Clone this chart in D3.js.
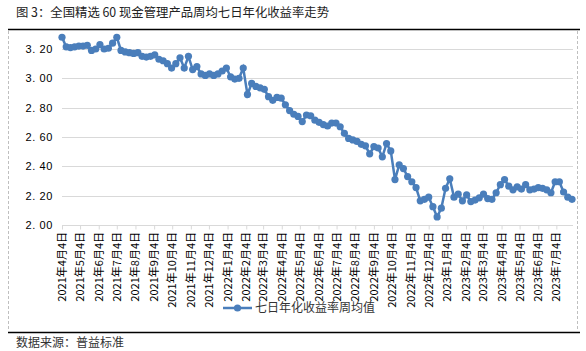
<!DOCTYPE html>
<html>
<head>
  <meta charset="utf-8">
  <title>七日年化收益率周均值</title>
  <script src="https://d3js.org/d3.v7.min.js"></script>
  <style>
    body { margin: 0; background: #fff; }
    text { font-family: "Liberation Sans", Arial, sans-serif; }
    .cjk { font-family: "Noto Sans CJK SC", sans-serif; }
  </style>
</head>
<body>
<script>
  // 데이터: 2021-04-04부터 매주 (주간 평균)
  var startDate = "2021-04-04";
  var yields = [
    3.28, 3.215, 3.21, 3.215, 3.22, 3.22, 3.225, 3.19, 3.20, 3.23,
    3.20, 3.205, 3.24, 3.28, 3.19, 3.18, 3.175, 3.17, 3.175, 3.15,
    3.145, 3.15, 3.16, 3.13, 3.12, 3.10, 3.07, 3.10, 3.14, 3.07,
    3.15, 3.06, 3.08, 3.03, 3.02, 3.03, 3.02, 3.03, 3.05, 3.07,
    3.01, 2.995, 3.00, 3.07, 2.89, 2.965, 2.945, 2.935, 2.925, 2.875,
    2.85, 2.87, 2.865, 2.82, 2.78, 2.755, 2.74, 2.705, 2.75, 2.745,
    2.715, 2.70, 2.685, 2.675, 2.695, 2.695, 2.67, 2.625, 2.59, 2.58,
    2.57, 2.55, 2.54, 2.485, 2.535, 2.525, 2.465, 2.555, 2.505, 2.31,
    2.41, 2.385, 2.33, 2.295, 2.255, 2.165, 2.175, 2.19, 2.125, 2.055,
    2.115, 2.25, 2.315, 2.19, 2.21, 2.165, 2.205, 2.16, 2.17, 2.185,
    2.21, 2.18, 2.175, 2.22, 2.275, 2.31, 2.265, 2.24, 2.26, 2.245,
    2.275, 2.24, 2.245, 2.255, 2.25, 2.24, 2.22, 2.295, 2.295, 2.225,
    2.19, 2.175
  ];
  var yTicks = [2.00, 2.20, 2.40, 2.60, 2.80, 3.00, 3.20];
  var titleText = "图 3：全国精选 60 现金管理产品周均七日年化收益率走势";
  var legendText = "七日年化收益率周均值";
  var sourceText = "数据来源：普益标准";

  var width = 586, height = 351;
  var parse = d3.timeParse("%Y-%m-%d");
  var t0 = parse(startDate);
  var data = yields.map(function (v, i) { return { date: d3.timeDay.offset(t0, i * 7), value: v }; });

  var svg = d3.select("body").append("svg").attr("width", width).attr("height", height);

  // 프레임
  svg.append("line").attr("x1", 8).attr("x2", 580).attr("y1", 29.5).attr("y2", 29.5)
    .attr("stroke", "#000").attr("stroke-width", 1.5);
  svg.append("line").attr("x1", 8).attr("x2", 580).attr("y1", 332.5).attr("y2", 332.5)
    .attr("stroke", "#000").attr("stroke-width", 1.5);
  [8.5, 577.5].forEach(function (x) {
    svg.append("line").attr("x1", x).attr("x2", x).attr("y1", 31).attr("y2", 331)
      .attr("stroke", "#bfbfbf").attr("stroke-dasharray", "3,2");
  });

  svg.append("text").attr("class", "cjk").attr("x", 16).attr("y", 17)
    .attr("font-size", 12.5).attr("fill", "#222")
    .attr("textLength", 313).attr("lengthAdjust", "spacingAndGlyphs")
    .text(titleText);

  var x = d3.scaleTime()
    .domain([t0, data[data.length - 1].date])
    .range([62, 572]);
  var y = d3.scaleLinear().domain([2.0, 3.2]).range([225, 49]);

  // 그리드
  svg.append("g").selectAll("line").data(yTicks.slice(1)).enter().append("line")
    .attr("x1", 62).attr("x2", 573)
    .attr("y1", function (d) { return Math.round(y(d)) + 0.5; })
    .attr("y2", function (d) { return Math.round(y(d)) + 0.5; })
    .attr("stroke", "#d9d9d9");

  // y축 라벨
  svg.append("g").selectAll("text").data(yTicks).enter().append("text")
    .attr("x", 53).attr("y", function (d) { return y(d) + 4; })
    .attr("text-anchor", "end").attr("font-size", 11).attr("letter-spacing", 0.6)
    .attr("fill", "#000")
    .text(function (d) { return d3.format(".2f")(d).replace(".", ". "); });

  // x축
  var months = d3.timeMonth.range(parse("2021-04-01"), parse("2023-07-31"))
    .map(function (d) { return new Date(d.getFullYear(), d.getMonth(), 4); });
  var xAxis = svg.append("g").attr("transform", "translate(0,225.5)")
    .call(d3.axisBottom(x).tickValues(months).tickSize(4).tickFormat(""));
  xAxis.select(".domain").attr("stroke", "#d9d9d9").attr("d", "M62,0H573");
  xAxis.selectAll(".tick line").attr("stroke", "#d9d9d9");

  svg.append("g").selectAll("text").data(months).enter().append("text")
    .attr("class", "cjk")
    .attr("transform", function (d) { return "translate(" + (x(d) + 4) + ",232) rotate(-90)"; })
    .attr("text-anchor", "end").attr("font-size", 11).attr("fill", "#000")
    .text(function (d) { return d.getFullYear() + "年" + (d.getMonth() + 1) + "月4日"; });

  // 선 + 마커
  var color = "#4a7ebb";
  svg.append("path").datum(data)
    .attr("fill", "none").attr("stroke", color).attr("stroke-width", 2.5)
    .attr("d", d3.line().x(function (d) { return x(d.date); }).y(function (d) { return y(d.value); }));
  svg.append("g").selectAll("circle").data(data).enter().append("circle")
    .attr("cx", function (d) { return x(d.date); })
    .attr("cy", function (d) { return y(d.value); })
    .attr("r", 3.6).attr("fill", color);

  // 범례
  svg.append("line").attr("x1", 223).attr("x2", 252).attr("y1", 308).attr("y2", 308)
    .attr("stroke", color).attr("stroke-width", 2.5);
  svg.append("circle").attr("cx", 237.5).attr("cy", 308).attr("r", 3.6).attr("fill", color);
  svg.append("text").attr("class", "cjk").attr("x", 255).attr("y", 312)
    .attr("font-size", 12).attr("fill", "#333").text(legendText);

  svg.append("text").attr("class", "cjk").attr("x", 16).attr("y", 347)
    .attr("font-size", 12).attr("fill", "#333").text(sourceText);
</script>
</body>
</html>
